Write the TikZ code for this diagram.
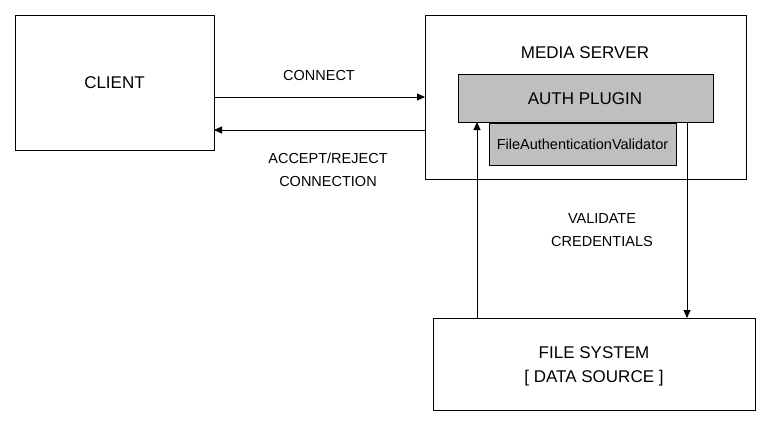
\documentclass[tikz,border=0pt]{standalone}
\usepackage{fontspec}
\setmainfont{Liberation Sans}
\usetikzlibrary{arrows.meta}
\begin{document}
\begin{tikzpicture}[x=1pt,y=-1pt,
  box/.style={draw=black,line width=0.8pt,fill=white},
  gbox/.style={draw=black,line width=0.8pt,fill=black!25},
  arr/.style={draw=black,line width=0.9pt,-{Triangle[length=8pt,width=7pt]}},
  big/.style={font=\fontsize{17}{22}\selectfont,align=center},
  lbl/.style={font=\fontsize{14.5}{23}\selectfont,align=center}]
\useasboundingbox (0,0) rectangle (771,426);
\draw[box] (15,15) rectangle (214,150);
\node[big] (client) at (114.5,82.5) {CLIENT};
\coordinate (cR1) at (214,97); \coordinate (cR2) at (214,130);
\draw[box] (425,15) rectangle (746,179);
\node[big] at (585,53) {MEDIA SERVER};
\coordinate (mL1) at (425,97); \coordinate (mL2) at (425,130);
\draw[gbox] (458,74) rectangle (713,122);
\node[big] (auth) at (585,99) {AUTH PLUGIN};
\draw[gbox] (489,123) rectangle (676,165);
\node[lbl] (fav) at (582.5,144) {FileAuthenticationValidator};
\draw[box] (433,318) rectangle (755,410);
\node[big,font=\fontsize{17}{24}\selectfont] (fs) at (594,366) {FILE SYSTEM\\{[} DATA SOURCE ]};
\coordinate (aB1) at (477,122); \coordinate (aB2) at (687,122);
\coordinate (fT1) at (477,318); \coordinate (fT2) at (687,318);
\draw[arr] (cR1) -- (mL1);
\draw[arr] (mL2) -- (cR2);
\draw[arr] (fT1) -- (aB1);
\draw[arr] (aB2) -- (fT2);
\node[lbl] at (319,76) {CONNECT};
\node[lbl] at (328,170) {ACCEPT/REJECT\\CONNECTION};
\node[lbl] at (602,230) {VALIDATE\\CREDENTIALS};
\end{tikzpicture}
\end{document}
